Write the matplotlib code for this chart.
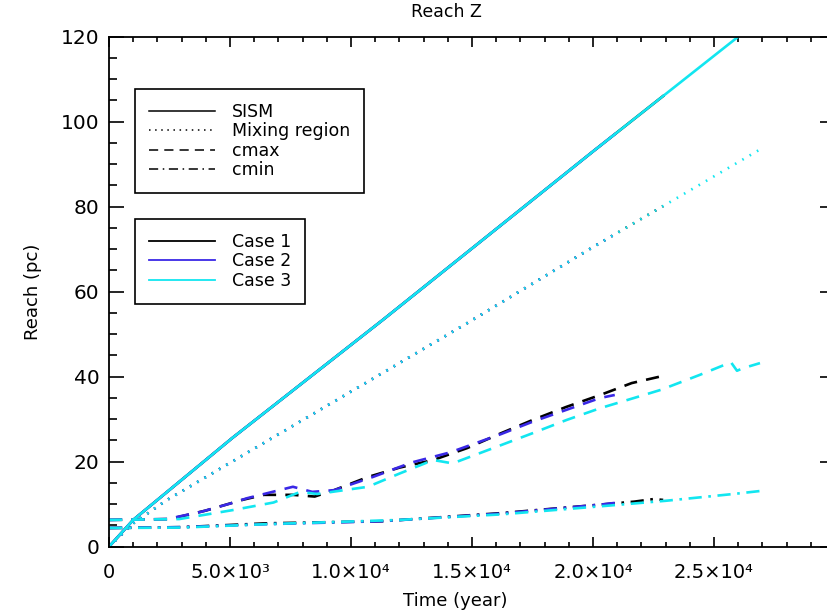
import matplotlib
matplotlib.use("Agg")
import matplotlib.pyplot as plt
import numpy as np
from matplotlib.lines import Line2D
from matplotlib.ticker import MultipleLocator, FixedLocator, FixedFormatter

# --- data (time in years, reach in pc) ---
sism_t = [0, 1000, 5100, 11300, 20000, 26000, 26900]
sism_r = [0, 6.3, 25.6, 53.3, 93.0, 120.0, 124.0]

mix_t = [0, 1000, 2400, 10000, 14800, 20000, 27000]
mix_r = [0, 5.5, 11.0, 36.5, 52.6, 70.5, 93.8]

# cmax (dashed)
c1_max_t = [0, 2500, 4000, 5500, 6400, 7600, 8500, 9300, 10700, 12000, 13400,
            14800, 16200, 17500, 18900, 20300, 21600, 22900]
c1_max_r = [6.3, 6.5, 8.5, 11.0, 12.2, 12.2, 11.8, 13.3, 16.4, 18.6, 20.4,
            23.2, 26.7, 29.8, 32.9, 35.7, 38.5, 40.2]
c2_max_t = [0, 2400, 3800, 5100, 5700, 7600, 8400, 9300, 10900, 12500, 14100,
            16200, 17500, 18900, 20300, 20900]
c2_max_r = [6.3, 6.5, 8.2, 10.3, 11.4, 14.1, 12.9, 13.3, 16.4, 19.8, 22.2,
            26.5, 29.4, 32.2, 35.0, 35.7]
c3_max_t = [0, 2900, 5100, 6800, 7900, 8600, 10700, 12000, 13400, 14200, 16200,
            17500, 18900, 20300, 21700, 22800, 24400, 25700, 25950, 26200, 26900]
c3_max_r = [6.3, 6.5, 8.6, 10.4, 12.9, 12.4, 14.1, 17.2, 20.4, 19.6, 23.9,
            26.7, 29.8, 32.6, 35.0, 36.9, 40.4, 43.4, 41.4, 42.0, 43.2]

# cmin (dash-dot)
c1_min_t = [0, 3000, 6500, 11300, 16200, 20300, 21700, 22500, 22900]
c1_min_r = [4.4, 4.6, 5.5, 6.0, 7.9, 9.9, 10.6, 11.2, 11.0]
c2_min_t = [0, 3000, 6500, 11300, 16200, 20300, 20900]
c2_min_r = [4.4, 4.6, 5.3, 6.0, 7.8, 9.9, 10.3]
c3_min_t = [0, 3000, 6500, 12000, 16200, 20300, 23000, 25800, 26900]
c3_min_r = [4.4, 4.5, 5.3, 6.3, 7.6, 9.5, 10.8, 12.4, 13.1]

case_end = [22900, 20900, 26900]
case_names = ["Case 1", "Case 2", "Case 3"]
case_colors = ["black", "#3a28e6", "#12e6f0"]

x_ticks = [0, 5000, 10000, 15000, 20000, 25000]
x_labels = ["0", "5.0×10³", "1.0×10⁴", "1.5×10⁴", "2.0×10⁴", "2.5×10⁴"]

plt.rcParams["font.family"] = ["DejaVu Sans"]

fig = plt.figure(figsize=(8.27, 6.14), dpi=100)
ax = fig.add_axes([109 / 827, 1 - 546.7 / 614, 726 / 827, 510 / 614])

lw = 1.9
dash = (0, (5, 3.5))
dot = (0, (0.6, 2.6))
dashdot = (0, (5, 2.5, 1, 2.5))

max_sets = [(c1_max_t, c1_max_r), (c2_max_t, c2_max_r), (c3_max_t, c3_max_r)]
min_sets = [(c1_min_t, c1_min_r), (c2_min_t, c2_min_r), (c3_min_t, c3_min_r)]


def cut(ts, rs, end):
    """keep the points up to the end of a run"""
    t2 = [t for t in ts if t < end] + [end]
    r2 = [r for t, r in zip(ts, rs) if t < end] + [float(np.interp(end, ts, rs))]
    return t2, r2


for i in range(3):
    col = case_colors[i]
    end = case_end[i]
    ax.plot(*cut(sism_t, sism_r, end), color=col, lw=lw, linestyle="-")
    ax.plot(*cut(mix_t, mix_r, end), color=col, lw=lw, linestyle=dot)
    ax.plot(*max_sets[i], color=col, lw=lw, linestyle=dash)
    ax.plot(*min_sets[i], color=col, lw=lw, linestyle=dashdot)

ax.set_xlim(0, 30000)
ax.set_ylim(0, 120)

ax.xaxis.set_major_locator(FixedLocator(x_ticks))
ax.xaxis.set_major_formatter(FixedFormatter(x_labels))
ax.xaxis.set_minor_locator(MultipleLocator(1000))
ax.yaxis.set_major_locator(MultipleLocator(20))
ax.yaxis.set_minor_locator(MultipleLocator(5))

ax.tick_params(which="both", direction="in", top=True, right=True, width=1.2, colors="black")
ax.tick_params(axis="x", which="major", length=7.2, labelsize=14, pad=12)
ax.tick_params(axis="x", which="minor", length=3.6)
ax.tick_params(axis="y", which="major", length=10.5, labelsize=14.5, pad=7)
ax.tick_params(axis="y", which="minor", length=5.8)
for s in ax.spines.values():
    s.set_linewidth(1.3)

fig.text(446 / 827, 1 - 12 / 614, "Reach Z", ha="center", va="center", fontsize=12.5)
fig.text(455 / 827, 1 - 601 / 614, "Time (year)", ha="center", va="center", fontsize=13)
fig.text(33 / 827, 1 - 292 / 614, "Reach (pc)", ha="center", va="center",
         rotation=90, fontsize=13)

legend_kw = dict(loc="upper left", frameon=True, fancybox=False, edgecolor="black",
                 framealpha=1, fontsize=12.5, handlelength=3.8, handletextpad=1.0,
                 labelspacing=0.08, borderpad=0.8, borderaxespad=0)

style_handles = [Line2D([], [], color="black", lw=1.1, linestyle=s)
                 for s in ["-", (0, (1, 3)), (0, (6, 4)), (0, (6, 3, 1, 3))]]
style_labels = ["SISM", "Mixing region", "cmax", "cmin"]
leg1 = ax.legend(style_handles, style_labels,
                 bbox_to_anchor=((135 - 109) / 726, (546.7 - 89) / 510), **legend_kw)
leg1.get_frame().set_linewidth(1.2)
ax.add_artist(leg1)

case_handles = [Line2D([], [], color=c, lw=1.3) for c in case_colors]
leg2 = ax.legend(case_handles, case_names,
                 bbox_to_anchor=((135 - 109) / 726, (546.7 - 219) / 510), **legend_kw)
leg2.get_frame().set_linewidth(1.2)

fig.savefig("out.png", dpi=100)
